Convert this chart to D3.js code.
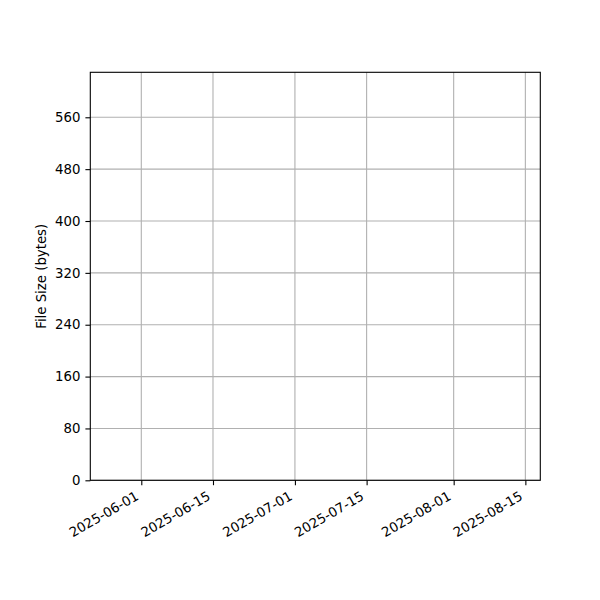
<!DOCTYPE html>
<html>
<head>
<meta charset="utf-8">
<script src="https://cdn.jsdelivr.net/npm/d3@7"></script>
<style>
  body { margin: 0; background: #fff; }
  text { font-family: "DejaVu Sans", sans-serif; font-size: 13.3px; fill: #000; }
</style>
</head>
<body>
<script>
// no data points in the file, just an empty time axis
const dates = []
const sizes = []
const xTicks = ['2025-06-01', '2025-06-15', '2025-07-01', '2025-07-15', '2025-08-01', '2025-08-15']
const yTicks = [0, 80, 160, 240, 320, 400, 480, 560]
const xDomain = ['2025-05-22T01:00', '2025-08-17T22:00']
const yDomain = [0, 629.4]
const yLabel = 'File Size (bytes)'

const width = 600, height = 600
const margin = {top: 72.3, right: 59.7, bottom: 119.7, left: 90.3}
const parse = d3.isoParse

const svg = d3.select('body').append('svg')
    .attr('width', width)
    .attr('height', height)

const x = d3.scaleTime()
    .domain(xDomain.map(parse))
    .range([margin.left, width - margin.right])
const y = d3.scaleLinear()
    .domain(yDomain)
    .range([height - margin.bottom, margin.top])

// grid
svg.append('g').selectAll('line')
    .data(xTicks)
    .join('line')
    .attr('x1', d => x(parse(d))).attr('x2', d => x(parse(d)))
    .attr('y1', margin.top).attr('y2', height - margin.bottom)
    .attr('stroke', '#b0b0b0').attr('stroke-width', 1.1)
svg.append('g').selectAll('line')
    .data(yTicks)
    .join('line')
    .attr('x1', margin.left).attr('x2', width - margin.right)
    .attr('y1', d => y(d)).attr('y2', d => y(d))
    .attr('stroke', '#b0b0b0').attr('stroke-width', 1.1)

// points (none)
svg.append('g').selectAll('circle')
    .data(dates.map((d, i) => ({date: parse(d), size: sizes[i]})))
    .join('circle')
    .attr('cx', d => x(d.date)).attr('cy', d => y(d.size))
    .attr('r', 3).attr('fill', '#1f77b4')

// x axis
const xAxis = svg.append('g')
    .attr('transform', `translate(0,${height - margin.bottom})`)
    .call(d3.axisBottom(x)
        .tickValues(xTicks.map(parse))
        .tickSize(4.9)
        .tickPadding(4.9)
        .tickFormat(d3.timeFormat('%Y-%m-%d')))
xAxis.select('.domain').remove()
xAxis.selectAll('.tick line').attr('stroke', '#000').attr('stroke-width', 1.1)
xAxis.selectAll('.tick text')
    .attr('font-size', null).attr('font-family', null)
    .attr('text-anchor', 'end')
    .attr('y', 0).attr('dy', '0.35em')
    .attr('transform', 'translate(-4.5,14.5) rotate(-30)')

// y axis
const yAxis = svg.append('g')
    .attr('transform', `translate(${margin.left},0)`)
    .call(d3.axisLeft(y)
        .tickValues(yTicks)
        .tickSize(4.9)
        .tickPadding(4.9))
yAxis.select('.domain').remove()
yAxis.selectAll('.tick line').attr('stroke', '#000').attr('stroke-width', 1.1)
yAxis.selectAll('.tick text').attr('font-size', null).attr('font-family', null)

// frame
svg.append('rect')
    .attr('x', margin.left).attr('y', margin.top)
    .attr('width', width - margin.left - margin.right)
    .attr('height', height - margin.top - margin.bottom)
    .attr('fill', 'none').attr('stroke', '#000').attr('stroke-width', 1.1)

svg.append('text')
    .attr('transform', `translate(46,${(margin.top + height - margin.bottom) / 2}) rotate(-90)`)
    .attr('text-anchor', 'middle')
    .text(yLabel)
</script>
</body>
</html>
